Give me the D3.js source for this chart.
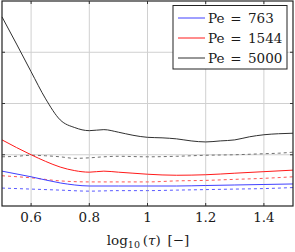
<!doctype html>
<html>
<head>
<meta charset="UTF-8">
<title>Pe curves</title>
<script src="https://d3js.org/d3.v7.min.js"></script>
<style>
  body { margin: 0; background: #fff; }
  svg text { font-family: "DejaVu Serif", serif; fill: #1a1a1a; }
</style>
</head>
<body>
<svg id="chart" width="295" height="252"></svg>
<script>
// x values (log10 tau)
var xBlack = [0.5, 0.55, 0.6, 0.65, 0.7, 0.75, 0.8, 0.85, 0.9, 0.95, 1.0, 1.05, 1.1, 1.15, 1.2, 1.25, 1.3, 1.35, 1.4, 1.45, 1.5];
var pe5000 = [3.69, 3.16, 2.62, 2.09, 1.68, 1.53, 1.47, 1.49, 1.44, 1.38, 1.34, 1.33, 1.31, 1.27, 1.25, 1.27, 1.29, 1.35, 1.39, 1.41, 1.42];

var xDash = [0.5, 0.55, 0.6, 0.65, 0.7, 0.75, 0.8, 0.85, 0.9, 1.0, 1.1, 1.2, 1.3, 1.4, 1.45, 1.5];
var pe5000b = [0.96, 0.97, 0.99, 0.98, 0.96, 0.93, 0.94, 0.96, 0.97, 0.96, 0.97, 0.99, 1.0, 1.02, 1.03, 1.05];

var xRed = [0.5, 0.55, 0.6, 0.65, 0.7, 0.75, 0.8, 0.85, 0.9, 0.95, 1.0, 1.1, 1.2, 1.3, 1.4, 1.5];
var pe1544 = [1.29, 1.14, 1.0, 0.87, 0.76, 0.69, 0.66, 0.68, 0.66, 0.64, 0.62, 0.6, 0.61, 0.64, 0.67, 0.7];

var xCoarse = [0.5, 0.6, 0.7, 0.8, 0.9, 1.0, 1.1, 1.2, 1.3, 1.4, 1.5];
var pe1544b = [0.59, 0.55, 0.49, 0.47, 0.47, 0.47, 0.49, 0.5, 0.52, 0.54, 0.57];
var pe763b = [0.35, 0.33, 0.31, 0.29, 0.3, 0.3, 0.31, 0.32, 0.33, 0.34, 0.36];

var xBlue = [0.5, 0.6, 0.7, 0.75, 0.8, 0.9, 1.0, 1.1, 1.2, 1.3, 1.4, 1.5];
var pe763 = [0.68, 0.57, 0.45, 0.41, 0.39, 0.39, 0.39, 0.39, 0.4, 0.41, 0.42, 0.43];

var xTicks = [0.6, 0.8, 1, 1.2, 1.4];
var yTicks = [1, 2, 3];
var legendLabels = ["763", "1544", "5000"];
var legendColors = ["#4040ff", "#ff1a1a", "#303030"];

var svg = d3.select("#chart");
var pLeft = 2, pRight = 293, pTop = 1, pBottom = 206;

var x = d3.scaleLinear().domain([0.5, 1.5]).range([pLeft, pRight]);
var y = d3.scaleLinear().domain([0, 4]).range([pBottom, pTop]);

// grid
svg.append("g").selectAll("line").data(xTicks).enter().append("line")
    .attr("x1", function(d) { return x(d); }).attr("x2", function(d) { return x(d); })
    .attr("y1", pTop).attr("y2", pBottom)
    .attr("stroke", "#d0d0d0").attr("stroke-width", 1);
svg.append("g").selectAll("line").data(yTicks).enter().append("line")
    .attr("x1", pLeft).attr("x2", pRight)
    .attr("y1", function(d) { return y(d); }).attr("y2", function(d) { return y(d); })
    .attr("stroke", "#d0d0d0").attr("stroke-width", 1);

// curves
var line = function(xs) {
    return d3.line()
        .x(function(d, i) { return x(xs[i]); })
        .y(function(d) { return y(d); })
        .curve(d3.curveMonotoneX);
};

var series = [
    {xs: xCoarse, ys: pe763b, color: "#5a5aff", dash: "3,3"},
    {xs: xCoarse, ys: pe1544b, color: "#ff5555", dash: "3,3"},
    {xs: xDash, ys: pe5000b, color: "#707070", dash: "3,3"},
    {xs: xBlue, ys: pe763, color: "#4040ff", dash: null},
    {xs: xRed, ys: pe1544, color: "#ff1a1a", dash: null},
    {xs: xBlack, ys: pe5000, color: "#303030", dash: null}
];

svg.append("g").selectAll("path").data(series).enter().append("path")
    .attr("d", function(s) { return line(s.xs)(s.ys); })
    .attr("fill", "none")
    .attr("stroke", function(s) { return s.color; })
    .attr("stroke-width", 1)
    .attr("stroke-dasharray", function(s) { return s.dash; });

// frame and ticks
svg.append("rect")
    .attr("x", pLeft).attr("y", pTop)
    .attr("width", pRight - pLeft).attr("height", pBottom - pTop)
    .attr("fill", "none").attr("stroke", "#222").attr("stroke-width", 1.2);

var tk = svg.append("g").attr("stroke", "#333").attr("stroke-width", 1);
xTicks.forEach(function(t) {
    tk.append("line").attr("x1", x(t)).attr("x2", x(t)).attr("y1", pBottom).attr("y2", pBottom - 3);
    tk.append("line").attr("x1", x(t)).attr("x2", x(t)).attr("y1", pTop).attr("y2", pTop + 3);
});
yTicks.forEach(function(t) {
    tk.append("line").attr("x1", pLeft).attr("x2", pLeft + 3).attr("y1", y(t)).attr("y2", y(t));
    tk.append("line").attr("x1", pRight).attr("x2", pRight - 3).attr("y1", y(t)).attr("y2", y(t));
});

// tick labels
svg.append("g").selectAll("text").data(xTicks).enter().append("text")
    .attr("x", function(d) { return x(d); })
    .attr("y", 222)
    .attr("text-anchor", "middle")
    .attr("font-size", 13.5)
    .text(function(d) { return d3.format("")(d); });

// axis label
var lab = svg.append("text").attr("x", 148).attr("y", 245)
    .attr("text-anchor", "middle").attr("font-size", 13.5);
lab.append("tspan").text("log");
lab.append("tspan").attr("font-size", 9.5).attr("dy", 3).text("10");
lab.append("tspan").attr("dy", -3).text("\u2009(");
lab.append("tspan").attr("font-style", "italic").text("τ");
lab.append("tspan").text(")\u2002[−]");

// legend
var lg = svg.append("g");
lg.append("rect").attr("x", 173).attr("y", 5.5).attr("width", 114).attr("height", 63.5)
    .attr("fill", "#fff").attr("stroke", "#222").attr("stroke-width", 1);
legendLabels.forEach(function(l, i) {
    var yy = 18 + i * 20;
    lg.append("line").attr("x1", 178).attr("x2", 205).attr("y1", yy).attr("y2", yy)
        .attr("stroke", legendColors[i]).attr("stroke-width", 1);
    lg.append("text").attr("x", 208).attr("y", yy + 4.5).attr("font-size", 13.5).text("Pe");
    lg.append("text").attr("x", 236).attr("y", yy + 4.5).attr("font-size", 13.5)
        .attr("text-anchor", "middle").text("=");
    lg.append("text").attr("x", 248).attr("y", yy + 4.5).attr("font-size", 13.5).text(l);
});
</script>
</body>
</html>
